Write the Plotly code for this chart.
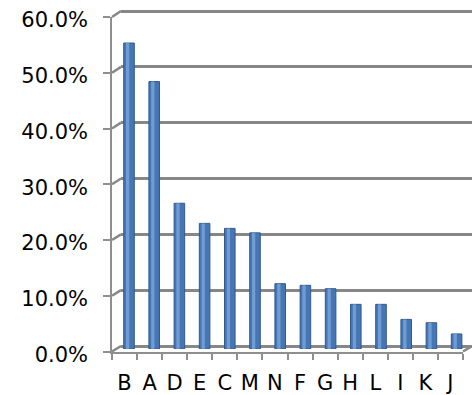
import plotly.graph_objects as go

# Share of responses per category (percent)
categories = ["B", "A", "D", "E", "C", "M", "N", "F", "G", "H", "L", "I", "K", "J"]
shares = [54.8, 47.9, 26.1, 22.5, 21.6, 20.8, 11.7, 11.4, 10.8, 8.0, 8.0, 5.3, 4.7, 2.7]
y_ticks = [0, 10, 20, 30, 40, 50, 60]
y_tick_text = [f"{v:.1f}%" for v in y_ticks]

W, H = 472, 395
FONT = "DejaVu Sans"
FONT_SIZE = 21
GRID = "#878787"
AXIS = "#8f8f8f"
YMAX = 60
PAD = 0.6  # a little slack so the end gridlines are not clipped


def fx(p):
    return p / W


def fy(p):
    return 1 - p / H


def y_domain(px_zero, px_top, lo, hi):
    """Paper domain whose range [lo, hi] puts 0 at px_zero and YMAX at px_top."""
    scale = (px_zero - px_top) / YMAX
    bottom = px_zero - lo * scale
    top = px_zero - hi * scale
    return [fy(bottom), fy(top)]


# pixel frames of the pseudo-3D box: front face, mid depth (bars), back wall
FRONT = dict(x0=112, x1=463, y0=351.5, y1=17)
MID = dict(x0=116.4, x1=469.2, y0=349, y1=14)
BACK = dict(x0=121, x1=472, y0=346, y1=11)
LABEL_DROP = 3  # value labels sit slightly below their ticks

idx = list(range(len(categories)))

fig = go.Figure()

# back wall (gridlines only)
fig.add_trace(go.Scatter(x=[], y=[], xaxis="x2", yaxis="y2", showlegend=False))

# cylinder bodies
fig.add_trace(go.Bar(
    x=idx, y=shares, xaxis="x3", yaxis="y3", width=0.42,
    marker=dict(color="#4677b5", line=dict(color="#34598a", width=1)),
    showlegend=False, hoverinfo="skip",
))
# cylinder highlight
fig.add_trace(go.Bar(
    x=idx, y=shares, xaxis="x3", yaxis="y3", width=0.13, offset=-0.12,
    marker=dict(color="rgba(128,168,222,0.75)", line=dict(width=0)),
    showlegend=False, hoverinfo="skip",
))

# front axes: line/ticks on y, value labels on y4
fig.add_trace(go.Scatter(x=[], y=[], xaxis="x", yaxis="y", showlegend=False))
fig.add_trace(go.Scatter(x=[], y=[], xaxis="x", yaxis="y4", showlegend=False))

# slanted connectors from the front axis to the back wall
shapes = []
front_scale = (FRONT["y0"] - FRONT["y1"]) / YMAX
back_scale = (BACK["y0"] - BACK["y1"]) / YMAX
for v in y_ticks:
    yf = FRONT["y0"] - v * front_scale
    yb = BACK["y0"] - v * back_scale
    shapes.append(dict(type="line", xref="paper", yref="paper",
                       x0=fx(FRONT["x0"]), y0=fy(yf), x1=fx(BACK["x0"]), y1=fy(yb),
                       line=dict(color=GRID, width=2.5)))
shapes.append(dict(type="line", xref="paper", yref="paper",
                   x0=fx(FRONT["x1"]), y0=fy(FRONT["y0"]), x1=fx(BACK["x1"]), y1=fy(BACK["y0"]),
                   line=dict(color=GRID, width=2.5)))

fig.update_layout(
    width=W, height=H,
    margin=dict(l=0, r=0, t=0, b=0),
    paper_bgcolor="white", plot_bgcolor="rgba(0,0,0,0)",
    barmode="overlay",
    font=dict(family=FONT, size=FONT_SIZE, color="black"),
    shapes=shapes,
    xaxis=dict(
        domain=[fx(FRONT["x0"]), fx(FRONT["x1"])], anchor="y", automargin=False,
        range=[-0.5, len(categories) - 0.5],
        tickvals=idx, ticktext=categories, ticks="",
        showline=True, linecolor=AXIS, linewidth=2,
        showgrid=False, zeroline=False,
        ticklabelstandoff=11,
        minor=dict(tickvals=[i - 0.5 for i in range(len(categories) + 1)],
                   ticks="outside", ticklen=6, tickcolor=AXIS, tickwidth=2, showgrid=False),
        tickfont=dict(size=FONT_SIZE, family=FONT),
    ),
    yaxis=dict(
        domain=y_domain(FRONT["y0"], FRONT["y1"], 0, YMAX), anchor="x", automargin=False,
        range=[0, YMAX], tickvals=y_ticks, showticklabels=False,
        ticks="outside", ticklen=7, tickcolor=AXIS, tickwidth=2,
        showline=True, linecolor=AXIS, linewidth=2,
        showgrid=False, zeroline=False,
    ),
    yaxis4=dict(
        domain=y_domain(FRONT["y0"] + LABEL_DROP, FRONT["y1"] + LABEL_DROP, 0, YMAX),
        anchor="x", automargin=False,
        range=[0, YMAX], tickvals=y_ticks, ticktext=y_tick_text,
        ticks="", showline=False, showgrid=False, zeroline=False,
        ticklabelstandoff=23,
        tickfont=dict(size=FONT_SIZE, family=FONT),
    ),
    xaxis2=dict(
        domain=[fx(BACK["x0"]), fx(BACK["x1"])], anchor="y2", automargin=False,
        range=[0, 1], visible=False,
    ),
    yaxis2=dict(
        domain=y_domain(BACK["y0"], BACK["y1"], -PAD, YMAX + PAD), anchor="x2", automargin=False,
        range=[-PAD, YMAX + PAD], tickvals=y_ticks,
        showgrid=True, gridcolor=GRID, gridwidth=2.5,
        zeroline=False, showticklabels=False, ticks="", showline=False,
    ),
    xaxis3=dict(
        domain=[fx(MID["x0"]), fx(MID["x1"])], anchor="y3", automargin=False,
        range=[-0.5, len(categories) - 0.5], visible=False,
    ),
    yaxis3=dict(
        domain=y_domain(MID["y0"], MID["y1"], 0, YMAX), anchor="x3", automargin=False,
        range=[0, YMAX], visible=False,
    ),
)

fig.write_html("out.html")
